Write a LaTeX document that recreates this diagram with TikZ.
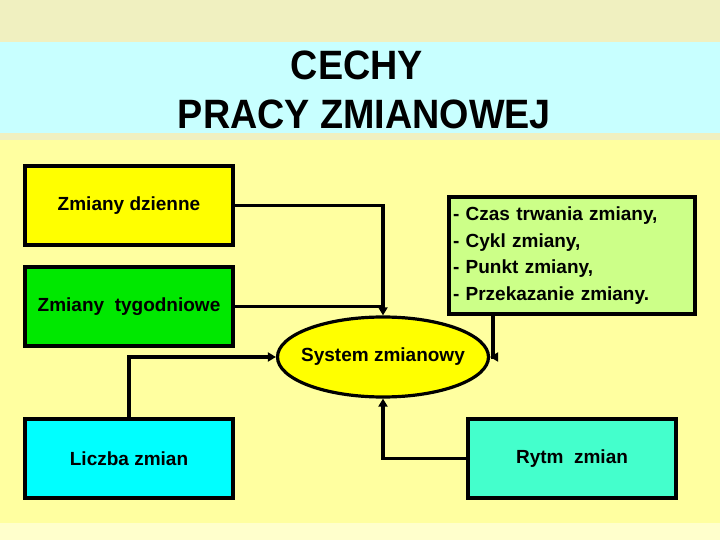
\documentclass[tikz,border=0pt]{standalone}
\usepackage{graphicx}
\usepackage{fontspec}
\setmainfont{Liberation Sans}
\usetikzlibrary{arrows.meta,shapes.geometric}
\definecolor{bgtop}{RGB}{240,240,192}
\definecolor{bgtitle}{RGB}{200,255,255}
\definecolor{bgmain}{RGB}{255,255,160}
\definecolor{bgbot}{RGB}{255,255,204}
\definecolor{cyel}{RGB}{255,255,0}
\definecolor{cgrn}{RGB}{0,232,0}
\definecolor{clgrn}{RGB}{204,255,136}
\definecolor{ccyan}{RGB}{0,255,255}
\definecolor{caqua}{RGB}{68,255,204}
\tikzset{
  boxst/.style={draw=black, line width=3.2pt, minimum width=208pt, minimum height=79pt, inner sep=0pt,
    font=\fontsize{19}{23}\selectfont\bfseries},
  arr/.style={line width=3.2pt, -{Triangle[length=8pt,width=9pt]}},
  lin/.style={line width=3.2pt},
  titlest/.style={font=\fontsize{41}{46}\selectfont\bfseries, anchor=base, inner sep=0pt}
}
\begin{document}
\begin{tikzpicture}[x=1pt,y=-1pt]
\useasboundingbox (0,0) rectangle (720,540);
% backgrounds
\fill[bgtop] (0,0) rectangle (720,42);
\fill[bgtitle] (0,42) rectangle (720,133);
\fill[bgtop] (0,133) rectangle (720,140);
\fill[bgmain] (0,140) rectangle (720,523);
\fill[bgbot] (0,523) rectangle (720,540);
% title
\node[titlest] (t1) at (357,80) {\scalebox{0.92}[1]{CECHY}};
\node[titlest] (t2) at (364.5,129) {\scalebox{0.92}[1]{PRACY ZMIANOWEJ}};
% boxes
\node[boxst, fill=cyel] (zd) at (129,205.5) {Zmiany dzienne};
\node[boxst, fill=cgrn] (zt) at (129,306.5) {Zmiany\ \ tygodniowe};
\node[boxst, fill=ccyan] (lz) at (129,458.5) {Liczba zmian};
\node[boxst, fill=caqua] (rz) at (572,458.5) {Rytm\ \ zmian};
\node[draw=black, line width=3.2pt, fill=clgrn, minimum width=246pt, minimum height=117pt,
  inner xsep=4pt, inner ysep=0pt, text width=238pt, align=left,
  font=\fontsize{19}{26.5}\selectfont\bfseries] (rb) at (572,255.5)
  {- Czas trwania zmiany,\\- Cykl zmiany,\\- Punkt zmiany,\\- Przekazanie zmiany.};
\node[ellipse, draw=black, line width=3.2pt, fill=cyel, minimum width=211pt, minimum height=80pt,
  inner sep=0pt] (ell) at (383,357) {};
\node[font=\fontsize{19}{23}\selectfont\bfseries, inner sep=0pt] (elltext) at (ell.center) {System zmianowy};
% connectors
\coordinate (rbx) at (493,0);
\draw[arr] (zd.east) -| (ell.north);
\draw[lin] (zt.east) -- (zt.east -| ell.north);
\draw[arr] (lz.north) |- (ell.west);
\draw[arr] (rz.west) -| (ell.south);
\draw[arr] (rb.south -| rbx) |- (ell.east);
\end{tikzpicture}
\end{document}
